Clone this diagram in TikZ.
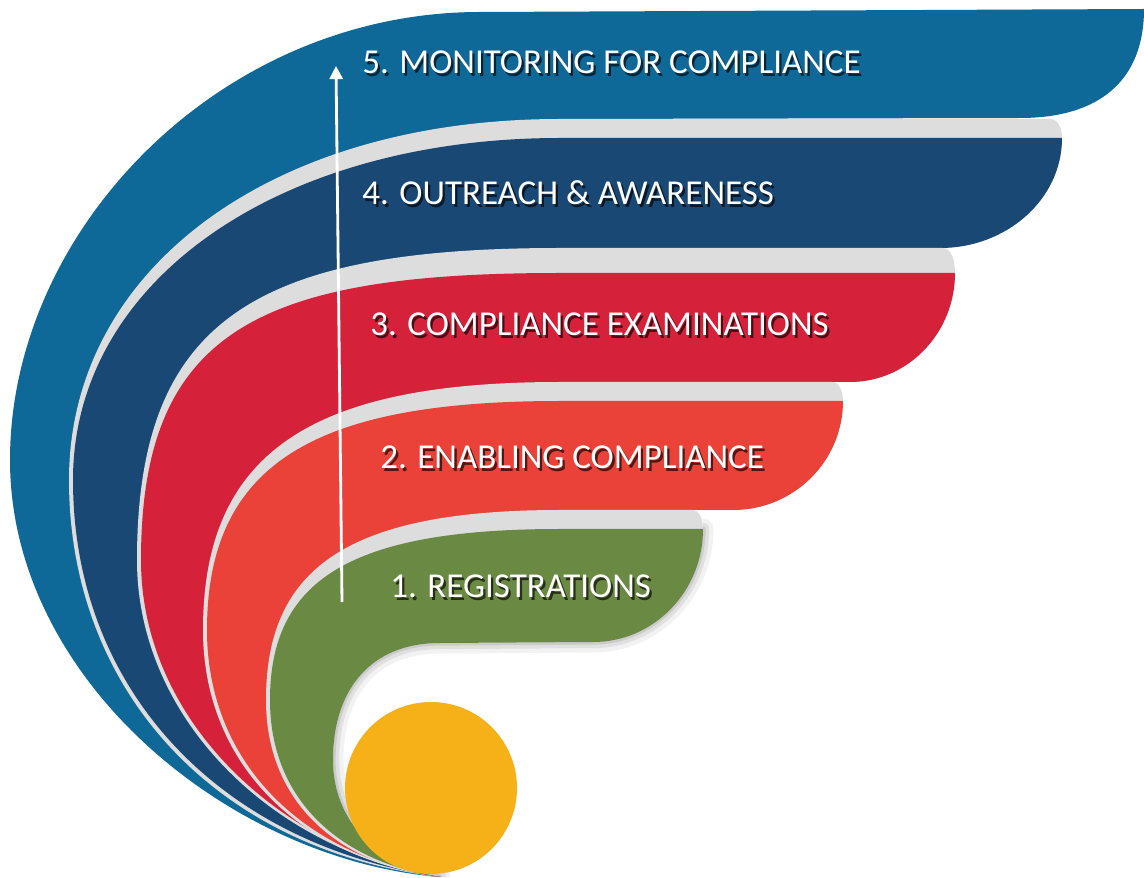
\documentclass[tikz,border=0pt]{standalone}
\usepackage{fontspec}
\setmainfont{Carlito}
\usetikzlibrary{arrows.meta}
\definecolor{cfive}{RGB}{14,104,152}
\definecolor{cfour}{RGB}{25,72,117}
\definecolor{cthree}{RGB}{214,33,58}
\definecolor{ctwo}{RGB}{234,66,56}
\definecolor{cone}{RGB}{106,138,67}
\definecolor{csun}{RGB}{246,177,24}
\definecolor{cgap}{RGB}{221,221,221}
\newcommand\shlbl[2]{\makebox[0pt][l]{\hspace{1.3pt}\raisebox{-1.3pt}{\textcolor{#2}{#1}}}#1}
\begin{document}
\begin{tikzpicture}[x=0.02cm,y=-0.02cm,
  lbl/.style={anchor=base west, inner sep=0pt, text=white, font=\fontsize{19.9pt}{24pt}\selectfont},
  gapfill/.style={fill=cgap},
  shadowline/.style={draw=black, line cap=round}]
\useasboundingbox (0,0) rectangle (1144,878);
\fill[white] (0,0) rectangle (1144,878);

% band 5
\fill[cfive] (440,877) .. controls (230,860) and (10,680) .. (10,460)
  .. controls (10,230) and (220,12) .. (480,12) -- (1144,9)
  .. controls (1144,80) and (1100,118) .. (1020,118) -- (560,119) -- (560,632) -- (440,632)
  .. controls (362,632) and (322,685) .. (322,760) .. controls (322,835) and (385,872) .. (440,877) -- cycle;

% gap 4 and band 4
\fill[gapfill] (440,877) .. controls (215,850) and (69,690) .. (69,480)
  .. controls (69,270) and (270,119) .. (560,119) -- (1050,119) .. controls (1058,119) and (1062,128) .. (1062,138)
  .. controls (1062,199) and (1007,248) .. (940,248) -- (560,248) -- (560,632) -- (440,632)
  .. controls (362,632) and (322,685) .. (322,760) .. controls (322,835) and (385,872) .. (440,877) -- cycle;
\fill[cfour] (440,877) .. controls (220,845) and (73,690) .. (73,480)
  .. controls (73,280) and (280,138) .. (560,138) -- (1062,138)
  .. controls (1062,199) and (1007,248) .. (940,248) -- (560,248) -- (560,632) -- (440,632)
  .. controls (362,632) and (322,685) .. (322,760) .. controls (322,835) and (385,872) .. (440,877) -- cycle;

% gap 3 and band 3
\fill[gapfill] (440,877) .. controls (275,852) and (137,720) .. (137,560)
  .. controls (137,320) and (255,248) .. (560,248) -- (943,248) .. controls (951,248) and (955,260) .. (955,273)
  .. controls (955,333) and (908,382) .. (850,382) -- (560,382) -- (560,632) -- (440,632)
  .. controls (362,632) and (322,685) .. (322,760) .. controls (322,835) and (385,872) .. (440,877) -- cycle;
\fill[cthree] (440,877) .. controls (280,850) and (141,720) .. (141,560)
  .. controls (141,330) and (260,273) .. (560,273) -- (955,273)
  .. controls (955,333) and (908,382) .. (850,382) -- (560,382) -- (560,632) -- (440,632)
  .. controls (362,632) and (322,685) .. (322,760) .. controls (322,835) and (385,872) .. (440,877) -- cycle;

% gap 2 and band 2
\fill[gapfill] (440,877) .. controls (295,857) and (203,760) .. (203,630)
  .. controls (203,450) and (315,382) .. (560,382) -- (832,382) .. controls (839,382) and (843,391) .. (843,401)
  .. controls (843,461) and (794,510) .. (733,510) -- (560,510) -- (560,632) -- (440,632)
  .. controls (362,632) and (322,685) .. (322,760) .. controls (322,835) and (385,872) .. (440,877) -- cycle;
\fill[ctwo] (440,877) .. controls (300,855) and (207,760) .. (207,630)
  .. controls (207,460) and (320,401) .. (560,401) -- (843,401)
  .. controls (843,461) and (794,510) .. (733,510) -- (560,510) -- (560,632) -- (440,632)
  .. controls (362,632) and (322,685) .. (322,760) .. controls (322,835) and (385,872) .. (440,877) -- cycle;

% gap 1 and band 1
\fill[gapfill] (440,877) .. controls (335,864) and (266,800) .. (266,700)
  .. controls (266,570) and (345,510) .. (560,510) -- (693,510) .. controls (699,510) and (703,519) .. (703,529)
  .. controls (703,591) and (654,642) .. (593,642) -- (560,632) -- (440,632)
  .. controls (362,632) and (322,685) .. (322,760) .. controls (322,835) and (385,872) .. (440,877) -- cycle;
\fill[cone] (440,877) .. controls (340,862) and (270,800) .. (270,700)
  .. controls (270,580) and (350,529) .. (560,529) -- (703,529)
  .. controls (703,591) and (654,642) .. (593,642) -- (440,643)
  .. controls (370,643) and (333,690) .. (333,760) .. controls (333,830) and (390,870) .. (440,877) -- cycle;

% soft shadow inside the hole and round the green end
\begin{scope}
  \clip (593,642) -- (440,643) .. controls (370,643) and (333,690) .. (333,760)
    .. controls (333,830) and (390,870) .. (440,877) -- (1144,878) -- (1144,500) -- (703,500) -- (703,529)
    .. controls (703,591) and (654,642) .. (593,642) -- cycle;
  \foreach \w/\o in {12pt/0.05, 7pt/0.07, 3pt/0.09}{
    \draw[shadowline, line width=\w, opacity=\o] (703,529) .. controls (703,591) and (654,642) .. (593,642) -- (440,643)
      .. controls (370,643) and (333,690) .. (333,760) .. controls (333,830) and (390,870) .. (440,877);
  }
\end{scope}

% yellow disc
\node[circle, fill=csun, minimum size=3.44cm, inner sep=0pt] (sun) at (431,788) {};

% arrow
\coordinate (arS) at (342,602);
\coordinate (arE) at (336,66);
\draw[white, line width=1.6pt, -{Triangle[length=7.5pt,width=7.5pt]}] (arS) -- (arE);

% labels
\node[lbl] (t5) at (362,74) {\shlbl{5. MONITORING FOR COMPLIANCE}{cfive!35!black}};
\node[lbl] (t4) at (362,205) {\shlbl{4. OUTREACH \& AWARENESS}{cfour!35!black}};
\node[lbl] (t3) at (370,336) {\shlbl{3. COMPLIANCE EXAMINATIONS}{cthree!35!black}};
\node[lbl] (t2) at (380,469) {\shlbl{2. ENABLING COMPLIANCE}{ctwo!35!black}};
\node[lbl] (t1) at (390,598) {\shlbl{1. REGISTRATIONS}{cone!35!black}};
\end{tikzpicture}
\end{document}
